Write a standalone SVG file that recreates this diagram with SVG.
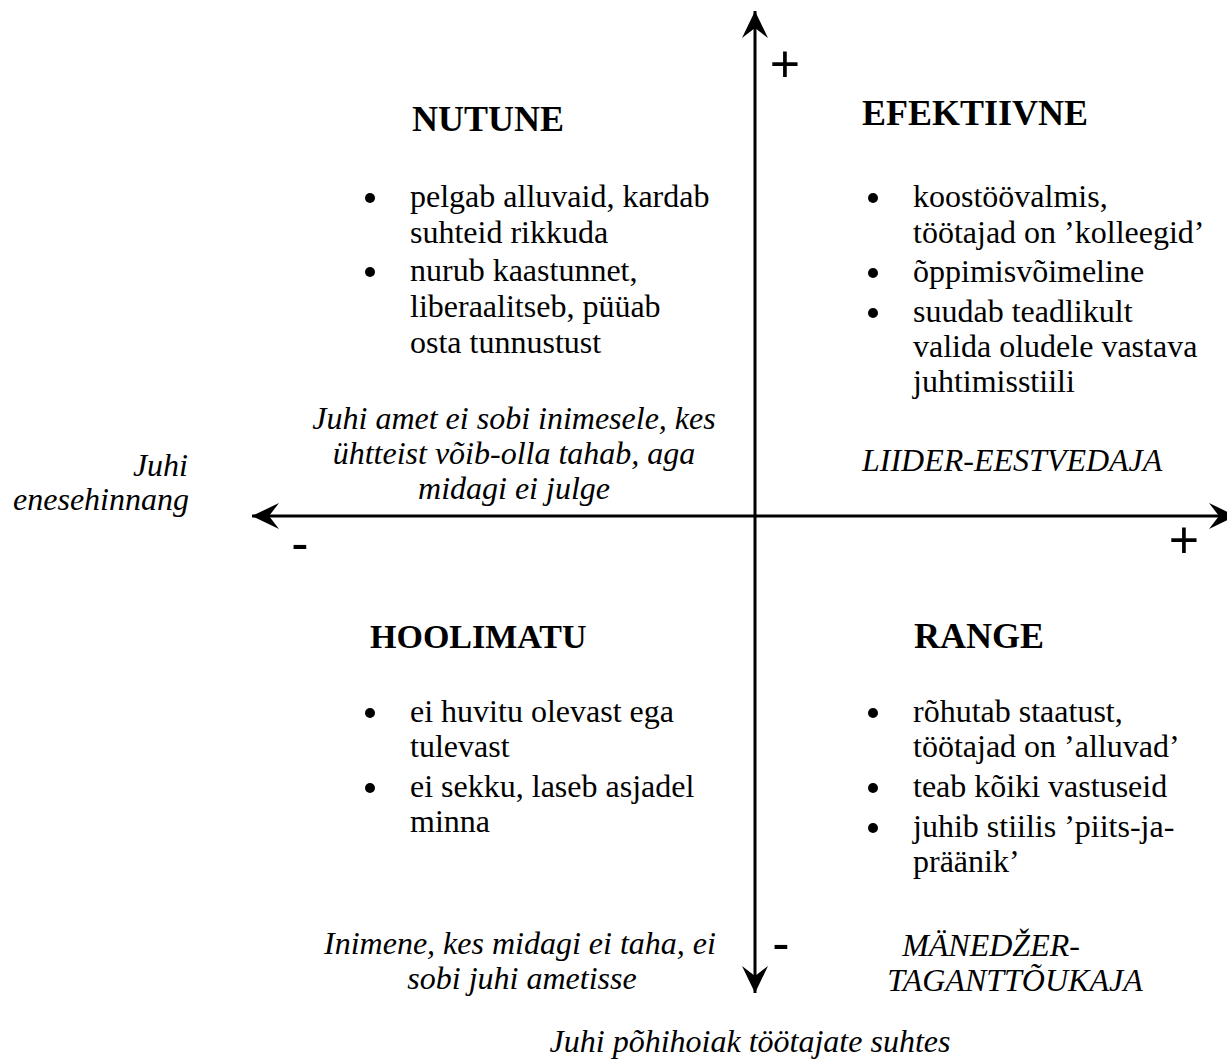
<svg xmlns="http://www.w3.org/2000/svg" width="1227" height="1064" viewBox="0 0 1227 1064">
<style>
text{font-family:"Liberation Serif","Times New Roman",serif;fill:#000}
.t{font-size:36px;font-weight:bold}
.b{font-size:32px}
.i{font-size:32px;font-style:italic}
.s{font-family:"Liberation Sans",Arial,sans-serif;font-size:52px}
.m{text-anchor:middle}
.r{text-anchor:end}
.ax{stroke:#000;stroke-width:3;fill:none}
</style>
<defs>
<marker id="ah" markerUnits="userSpaceOnUse" markerWidth="30" markerHeight="30" viewBox="-28 -14 30 28" refX="0" refY="0" orient="auto-start-reverse">
<path d="M0,0 L-27,-13 L-17,0 L-27,13 Z" fill="#000"/>
</marker>
</defs>
<rect width="1227" height="1064" fill="#fff"/>
<g id="connectors">
<line class="ax" x1="252" y1="516" x2="1236" y2="516" marker-start="url(#ah)" marker-end="url(#ah)"/>
<line class="ax" x1="755" y1="993" x2="755" y2="11" marker-start="url(#ah)" marker-end="url(#ah)"/>
</g>
<g id="axis-signs">
<text class="s m" x="785" y="82">+</text>
<text class="s m" x="1184" y="558">+</text>
<text class="s m" x="300" y="561">-</text>
<text class="s m" x="781" y="961">-</text>
</g>
<g id="nutune">
<text class="t" x="412" y="131">NUTUNE</text>
<circle cx="370" cy="198" r="5"/>
<circle cx="370" cy="272" r="5"/>
<text class="b" x="410" y="207">pelgab alluvaid, kardab</text>
<text class="b" x="410" y="243">suhteid rikkuda</text>
<text class="b" x="410" y="281">nurub kaastunnet,</text>
<text class="b" x="410" y="317">liberaalitseb, püüab</text>
<text class="b" x="410" y="353">osta tunnustust</text>
<text class="i m" x="514" y="429">Juhi amet ei sobi inimesele, kes</text>
<text class="i m" x="514" y="464">ühtteist võib-olla tahab, aga</text>
<text class="i m" x="514" y="499">midagi ei julge</text>
</g>
<g id="efektiivne">
<text class="t" x="862" y="125">EFEKTIIVNE</text>
<circle cx="873" cy="198" r="5"/>
<circle cx="873" cy="273" r="5"/>
<circle cx="873" cy="313" r="5"/>
<text class="b" x="913" y="207">koostöövalmis,</text>
<text class="b" x="913" y="243">töötajad on ’kolleegid’</text>
<text class="b" x="913" y="282">õppimisvõimeline</text>
<text class="b" x="913" y="322">suudab teadlikult</text>
<text class="b" x="913" y="357">valida oludele vastava</text>
<text class="b" x="913" y="392">juhtimisstiili</text>
<text class="i" x="862" y="471">LIIDER-EESTVEDAJA</text>
</g>
<g id="x-label">
<text class="i r" x="188" y="476">Juhi</text>
<text class="i r" x="189" y="510">enesehinnang</text>
</g>
<g id="hoolimatu">
<text class="t" x="370" y="648" style="font-size:34px">HOOLIMATU</text>
<circle cx="370" cy="713" r="5"/>
<circle cx="370" cy="788" r="5"/>
<text class="b" x="410" y="722">ei huvitu olevast ega</text>
<text class="b" x="410" y="757">tulevast</text>
<text class="b" x="410" y="797">ei sekku, laseb asjadel</text>
<text class="b" x="410" y="832">minna</text>
<text class="i m" x="520" y="954">Inimene, kes midagi ei taha, ei</text>
<text class="i m" x="522" y="989">sobi juhi ametisse</text>
</g>
<g id="range">
<text class="t" x="914" y="648">RANGE</text>
<circle cx="873" cy="713" r="5"/>
<circle cx="873" cy="788" r="5"/>
<circle cx="873" cy="828" r="5"/>
<text class="b" x="913" y="722">rõhutab staatust,</text>
<text class="b" x="913" y="757">töötajad on ’alluvad’</text>
<text class="b" x="913" y="797">teab kõiki vastuseid</text>
<text class="b" x="913" y="837">juhib stiilis ’piits-ja-</text>
<text class="b" x="913" y="872">präänik’</text>
<text class="i m" x="991" y="956">MÄNEDŽER-</text>
<text class="i m" x="1015" y="991">TAGANTTÕUKAJA</text>
</g>
<g id="y-label">
<text class="i m" x="750" y="1052">Juhi põhihoiak töötajate suhtes</text>
</g>
</svg>
